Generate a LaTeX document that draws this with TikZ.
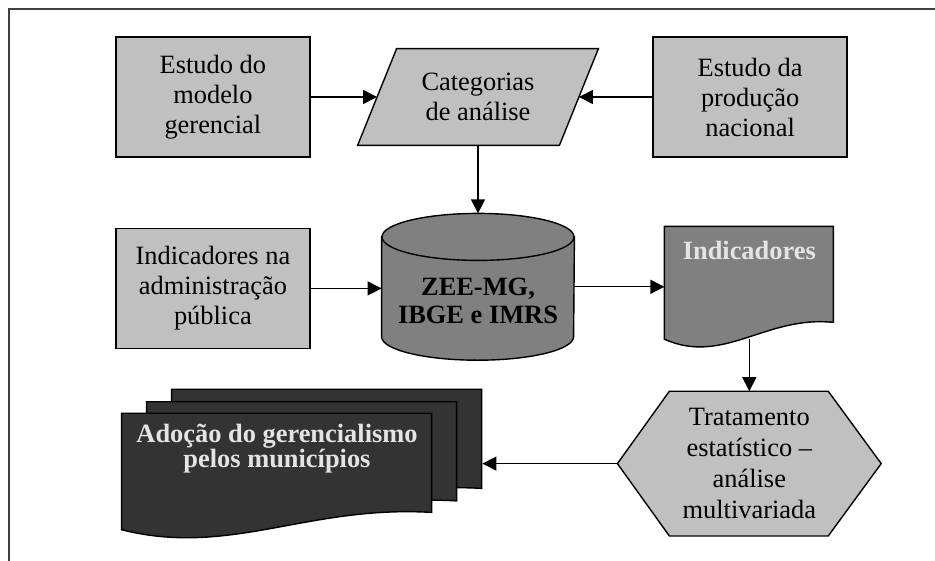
\documentclass[tikz,border=0pt]{standalone}
\usepackage{fontspec}
\setmainfont{Liberation Serif}
\usetikzlibrary{shapes.geometric, arrows.meta, positioning, calc, backgrounds}
\definecolor{boxgray}{HTML}{C0C0C0}
\definecolor{midgray}{HTML}{808080}
\definecolor{darkfill}{HTML}{333333}
\definecolor{paletext}{HTML}{E4E4E4}
\tikzstyle{rect} = [rectangle, 
			draw, 
			fill = boxgray, 
			line width = 0.7pt, 
			text centered, 
			align = center, 
			inner sep = 0pt, 
			minimum width = 97pt, 
			minimum height = 60pt]
\tikzstyle{nrect} = [rectangle, 
			text centered, 
			align = center, 
			inner sep = 0pt]
\tikzstyle{btext} = [nrect, 
			font = \fontsize{13.2}{14}\selectfont\bfseries]
\tikzstyle{shapeline} = [draw, line width = 0.7pt]
\tikzstyle{link} = [-{Triangle[length=7pt, width=7pt]}, line width = 0.6pt]
\tikzstyle{frame} = [draw = black!75, line width = 1pt]
\newcommand{\docpath}{(0,0) -- (1,0) -- (1,0.8) .. controls (0.6,0.74) and (0.35,1.16) .. (0,0.94) -- cycle}

\begin{document}
\begin{tikzpicture}[x=0.5pt, y=-0.5pt, font=\fontsize{13.2}{15}\selectfont]
	\useasboundingbox (0,0) rectangle (935,561);
	\draw [frame] (9,561) -- (9,9.5) -- (935,9.5);
	\node [nrect, minimum width=120pt, minimum height=48pt] (categorias) at (478,97) {Categorias\\de análise};
	\node [rect, left=23.5pt of categorias] (modelo) {Estudo do\\modelo\\gerencial};
	\node [rect, right=27pt of categorias] (producao) {Estudo da\\produção\\nacional};
	\node [nrect, minimum width=96pt, minimum height=73pt, below=34pt of categorias] (base) {};
	\node [rect, below=35pt of modelo] (indna) {Indicadores na\\administração\\pública};
	\node [nrect, minimum width=84.5pt, minimum height=60pt, right=45pt of base] (indic) {};
	\node [nrect, minimum width=131.5pt, minimum height=72pt, below=22pt of indic, font=\fontsize{13.2}{15.5}\selectfont] (tratamento) {Tratamento\\estatístico –\\análise\\multivariada};
	\node [nrect, minimum width=155pt, minimum height=62pt, left=92.5pt of tratamento, yshift=-6pt] (adocao) {};
	\node [nrect, minimum width=155pt, minimum height=62pt] (adocao2) at ($(adocao)+(25,-11.5)$) {};
	\node [nrect, minimum width=155pt, minimum height=62pt] (adocao3) at ($(adocao)+(50,-24)$) {};
	\node [btext] (base-t) at ($(base)+(0,14)$) {ZEE-MG,\\IBGE e IMRS};
	\node [btext, text=paletext, below=7pt of indic.north] (indic-t) {Indicadores};
	\node [btext, text=paletext, below=5pt of adocao.north, font=\fontsize{13.2}{12.5}\selectfont\bfseries] (adocao-t) {Adoção do gerencialismo\\pelos municípios};

	% shapes behind the texts
	\begin{scope}[on background layer]
		\path [shapeline, fill=boxgray] (categorias.south west) -- ($(categorias.north west)+(39,0)$) -- (categorias.north east) -- ($(categorias.south east)+(-39,0)$) -- cycle;
		\path [shapeline, fill=midgray] ($(base.north west)+(0,23.5)$) -- ($(base.south west)+(0,-23.5)$) arc [start angle=180, end angle=0, x radius=96, y radius=23.5] -- ($(base.north east)+(0,23.5)$) -- cycle;
		\path [shapeline, fill=midgray] ($(base.north)+(0,23.5)$) ellipse [x radius=96, y radius=23.5];
		\path [shapeline, fill=boxgray] (tratamento.west) -- ($(tratamento.north west)+(52,0)$) -- ($(tratamento.north east)+(-53,0)$) -- (tratamento.east) -- ($(tratamento.south east)+(-53,0)$) -- ($(tratamento.south west)+(52,0)$) -- cycle;
		\begin{scope}[shift={(indic.north west)}, x=84.5pt, y=-60pt]
			\path [shapeline, fill=midgray] \docpath;
		\end{scope}
		\foreach \page in {adocao3, adocao2, adocao} {
			\begin{scope}[shift={(\page.north west)}, x=155pt, y=-62pt]
				\path [shapeline, fill=darkfill] \docpath;
			\end{scope}
		}
	\end{scope}

	\draw [link] (modelo.east) -- ($(categorias.west)+(19.5,0)$);
	\draw [link] (producao.west) -- ($(categorias.east)+(-19.5,0)$);
	\draw [link] (categorias.south) -- (base.north);
	\draw [link] (indna.east) -- (indna.east -| base.west);
	\draw [link] (base.east) -- (base.east -| indic.west);
	\draw [link] ($(indic.south)+(0,-8)$) -- (tratamento.north);
	\draw [link] (tratamento.west) -- (tratamento.west -| adocao3.east);
\end{tikzpicture}
\end{document}
